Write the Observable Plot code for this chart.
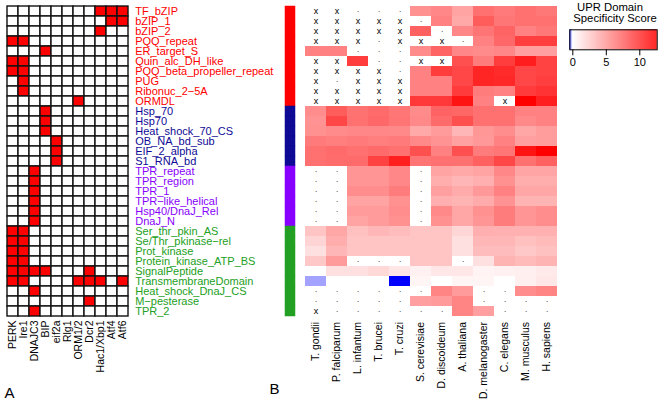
<!DOCTYPE html>
<html><head><meta charset="utf-8">
<script src="https://cdn.jsdelivr.net/npm/d3@7"></script>
<script src="https://cdn.jsdelivr.net/npm/@observablehq/plot@0.6"></script>
<style>
body{margin:0;background:#fff;}
#wrap{position:relative;width:661px;height:403px;overflow:hidden;font-family:"Liberation Sans",Arial,sans-serif;background:#fff;}
#wrap svg{position:absolute;left:0;top:0;}
.lab{position:absolute;white-space:nowrap;color:#000;}
</style></head><body><div id="wrap"></div>
<script>
// ---------- data ----------
const uprGenes = ["PERK","Ire1","DNAJC3","BIP","eif2a","Rlg1","ORM1/2","Dcr2","Hac1/Xbp1","Atf4","Atf6"];
const domains = ["TF_bZIP","bZIP_1","bZIP_2","PQQ_repeat","ER_target_S","Quin_alc_DH_like","PQQ_beta_propeller_repeat","PUG","Ribonuc_2\u22125A","ORMDL",
  "Hsp_70","Hsp70","Heat_shock_70_CS","OB_NA_bd_sub","EIF_2_alpha","S1_RNA_bd",
  "TPR_repeat","TPR_region","TPR_1","TPR\u2212like_helical","Hsp40/DnaJ_Rel","DnaJ_N",
  "Ser_thr_pkin_AS","Se/Thr_pkinase\u2212rel","Prot_kinase","Protein_kinase_ATP_BS","SignalPeptide","TransmembraneDomain","Heat_shock_DnaJ_CS","M\u2212pesterase","TPR_2"];
const domainGroup = [0,0,0,0,0,0,0,0,0,0, 1,1,1,1,1,1, 2,2,2,2,2,2, 3,3,3,3,3,3,3,3,3];
const groupColors = ["#ff0000","#0f0a95","#8800ff","#23a023"];
// indices of UPR genes having each domain
const presence = [[8,9,10],[9,10],[8],[0,1],[3],[0,1],[0,1],[1],[1],[6],
  [3],[3],[3],[4],[4],[4],
  [2],[2],[2],[2],[2],[2],
  [0,1],[0,1],[0,1],[0,1],[0,1,2,3,7],[0,1,6,7,8,10],[2],[7],[2]];

const species = ["T. gondii","P. falciparum","L. infantum","T. brucei","T. cruzi","S. cerevisiae","D. discoideum","A. thaliana","D. melanogaster","C. elegans","M. musculus","H. sapiens"];
const N = null;
const scores = [
  [N,N,N,N,N,5.4,5.9,4.5,7.0,6.5,7.0,6.6],
  [N,N,N,N,N,N,6.2,4.2,8.0,6.7,7.0,7.0],
  [N,N,N,N,N,7.8,N,5.9,6.8,7.6,6.2,6.6],
  [N,N,N,N,N,N,N,N,6.2,7.4,9.4,9.4],
  [6.2,6.2,N,N,N,5.7,7.6,5.9,5.7,5.9,4.7,4.7],
  [N,N,9.5,N,N,N,N,8.6,6.4,9.5,11.1,9.2],
  [N,N,N,N,N,6.2,9.5,9.0,10.7,10.4,9.0,9.2],
  [N,N,N,N,N,6.2,6.2,9.0,10.7,10.6,9.0,9.4],
  [N,N,N,N,N,6.2,6.2,9.6,6.4,6.2,9.6,10.0],
  [N,N,N,N,N,9.7,9.7,11.5,6.2,N,12.5,11.0],
  [5.6,8.0,6.9,7.3,6.7,5.7,7.7,7.5,7.0,7.0,6.2,6.2],
  [5.3,9.0,7.0,7.4,6.8,5.8,7.3,8.6,7.0,7.0,5.8,6.2],
  [5.4,5.7,5.9,5.9,5.8,4.2,4.9,3.6,5.1,5.6,4.3,4.8],
  [6.5,6.3,6.5,6.3,6.5,5.8,5.3,4.6,5.0,6.2,4.7,4.8],
  [7.0,7.3,7.0,7.3,7.0,8.6,6.2,8.6,6.4,6.7,11.5,12.5],
  [7.0,7.2,7.3,9.3,11.0,6.8,7.0,7.0,7.8,9.0,7.0,7.8],
  [N,N,5.2,5.2,5.9,N,4.5,4.2,4.5,5.9,4.4,4.4],
  [N,N,5.2,5.2,5.9,N,4.0,3.6,3.9,5.4,4.0,4.0],
  [N,N,5.6,5.6,6.4,N,4.7,4.1,5.0,6.2,4.3,4.3],
  [N,N,4.5,4.5,5.4,N,3.9,3.7,4.1,5.3,3.7,3.7],
  [N,N,4.9,4.9,5.6,N,5.8,4.3,5.4,6.4,5.2,5.6],
  [N,N,4.5,4.9,5.4,N,5.4,4.3,5.2,6.4,5.2,5.6],
  [2.9,4.3,3.1,3.6,3.3,2.9,2.9,2.0,3.9,3.8,3.8,3.8],
  [2.1,4.0,2.9,2.9,2.9,2.9,2.9,1.5,3.6,3.6,3.1,3.4],
  [1.5,3.6,2.9,2.9,2.9,2.9,2.9,1.5,3.3,3.3,2.7,3.1],
  [2.7,4.9,N,N,N,2.9,2.9,N,1.5,3.7,3.4,3.7],
  [0,1.5,1.5,1.9,1.2,0.7,1.2,1.2,0.6,0.7,0.8,1.1],
  [-0.18,0,0,0,-0.5,0.5,0,0.5,0.5,0,0.8,1.2],
  [N,N,N,N,N,N,6.0,4.9,N,N,5.6,6.0],
  [N,N,N,N,N,4.7,4.9,6.0,N,N,N,N],
  [N,N,N,N,N,N,N,6.0,4.7,N,N,N]
];
// symbol drawn in cells without a score
const naMarks = [
  "xx...-------","xxxxx.------","xxxxx-.-----","xxx.xxx.----","--...-------",
  "xx-..xx-----","xxxx.-------","x.xxx-------","xxxxx-------","xxxxx----x--",
  "------------","------------","------------","------------","------------","------------",
  "..---.------","..---.------","..---.------","..---.------","..---.------","..---.------",
  "------------","------------","------------","--...--.----","------------","------------",
  "......--..--",".....---....","x......--..."
];
const legendTicks = [0,5,10];

// ---------- derived tables ----------
const rows = domains.map((d,i)=>({name:d, color:groupColors[domainGroup[i]]}));
const grid = [];
domains.forEach((d,i)=>uprGenes.forEach((g,j)=>grid.push({domain:d, gene:g, on:presence[i].includes(j)})));
const hm = [];
domains.forEach((d,i)=>species.forEach((s,j)=>hm.push({dom:d, sp:s, v:scores[i][j], m:naMarks[i][j]})));

const FONT = "Liberation Sans, Arial, sans-serif";
const baseStyle = {fontFamily: FONT, fontSize: "11px", background: "transparent", overflow: "visible", color: "#000"};
const colorOpts = {type:"linear", domain:[-0.5,0,12.5], range:["#0000ff","#ffffff","#ff0000"], interpolate: d3.interpolateRgb, clamp:true};

const wrap = document.getElementById("wrap");

// ---------- A: presence grid ----------
const plotA = Plot.plot({
  width: 300, height: 403,
  marginLeft: 3.3, marginRight: 168.3, marginTop: 3.3, marginBottom: 85,
  style: baseStyle,
  x: {domain: uprGenes, padding: 0, axis: null},
  y: {domain: domains, padding: 0, axis: null},
  color: {type: "identity"},
  marks: [
    Plot.cell(grid, {x:"gene", y:"domain", fill: d=>d.on ? "#ff0000" : "#ffffff", stroke:"#111", strokeWidth:1.4, inset:0}),
    Plot.text(rows, {y:"name", text:"name", frameAnchor:"right", dx:3, textAnchor:"start", fill: d=>d.color, fontSize:11}),
    Plot.axisX({tickRotate:-90, tickSize:0, tickPadding:2, fontSize:10.5, label:null})
  ]
});
wrap.appendChild(plotA);

// ---------- group colour bar ----------
const plotC = Plot.plot({
  width: 661, height: 403,
  marginLeft: 285, marginRight: 366, marginTop: 3.3, marginBottom: 85,
  style: baseStyle,
  x: {domain:["g"], padding:0, axis:null},
  y: {domain: domains, padding:0, axis:null},
  color: {type:"identity"},
  marks: [
    Plot.cell(rows, {x: ()=>"g", y:"name", fill: d=>d.color, stroke: d=>d.color, strokeWidth:0.5})
  ]
});
wrap.appendChild(plotC);

// ---------- B: specificity heatmap ----------
const plotB = Plot.plot({
  width: 661, height: 403,
  marginLeft: 299.3, marginRight: 98, marginTop: 3.3, marginBottom: 85,
  style: baseStyle,
  x: {domain: species, padding:0, axis:null},
  y: {domain: domains, padding:0, axis:null},
  color: colorOpts,
  marks: [
    Plot.cell(hm.filter(d=>d.v !== null), {x:"sp", y:"dom", fill:"v", inset:0}),
    Plot.text(hm.filter(d=>d.m === "x"), {x:"sp", y:"dom", text: ()=>"x", fontSize:9, fill:"#000"}),
    Plot.text(hm.filter(d=>d.m === "."), {x:"sp", y:"dom", text: ()=>".", fontSize:8, dy:-2, fill:"#000"}),
    Plot.axisX({tickRotate:-90, tickSize:0, tickPadding:3.5, fontSize:10.5, label:null})
  ]
});
wrap.appendChild(plotB);

// ---------- legend ----------
const ramp = d3.range(-0.45, 12.6, 0.05);
const plotD = Plot.plot({
  width: 661, height: 70,
  marginLeft: 569.3, marginRight: 4.3, marginTop: 29.3, marginBottom: 20.7,
  style: baseStyle,
  x: {domain:[-0.45, 12.6]},
  color: colorOpts,
  marks: [
    Plot.rect(ramp, {x1: d=>d, x2: d=>Math.min(d+0.07, 12.6), fill: d=>d}),
    Plot.frame({stroke:"#000", strokeWidth:1}),
    Plot.axisX({ticks: legendTicks, tickSize:6, tickPadding:2, fontSize:11, label:null, tickFormat: d=>String(d)})
  ]
});
wrap.appendChild(plotD);

// ---------- texts ----------
function addLabel(txt, left, top, size, extra){
  const el = document.createElement("div");
  el.className = "lab";
  el.textContent = txt;
  el.style.left = left + "px"; el.style.top = top + "px";
  el.style.fontSize = size + "px"; el.style.lineHeight = size + "px";
  if (extra) Object.assign(el.style, extra);
  wrap.appendChild(el);
  return el;
}
const t1 = addLabel("UPR Domain", 0, 2.2, 11.3);
const t2 = addLabel("Specificity Score", 0, 12.8, 11.3);
t1.style.left = (610 - t1.offsetWidth/2) + "px";
t2.style.left = (615.3 - t2.offsetWidth/2) + "px";
addLabel("A", 4.5, 385.3, 15);
addLabel("B", 269.5, 381.3, 15);
</script></body></html>
